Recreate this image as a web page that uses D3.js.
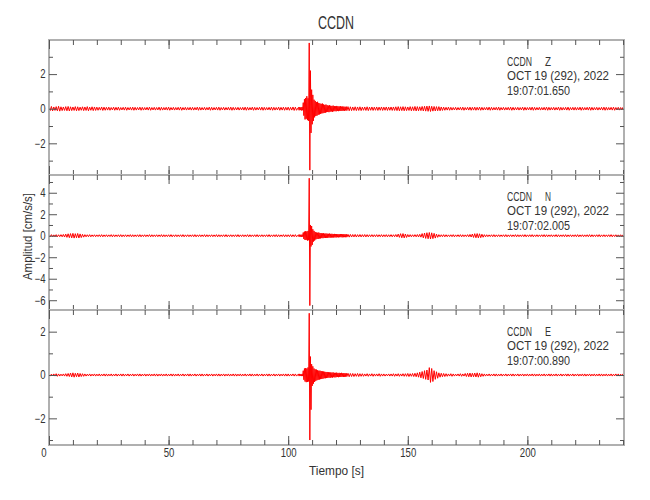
<!DOCTYPE html>
<html><head><meta charset="utf-8">
<script src="https://cdn.jsdelivr.net/npm/d3@7"></script>
<style>
body{margin:0;background:#fff}
svg{display:block}
text{font-family:"Liberation Sans",Arial,sans-serif;fill:#333}
</style>
</head><body><svg id="c" width="650" height="500"></svg>
<script>
// ---------------- DATA ----------------
const station = "CCDN";
const channels = ["Z", "N", "E"];
const dateLabel = "OCT 19 (292), 2022";
const startTimes = ["19:07:01.650", "19:07:02.005", "19:07:00.890"];
const xLabel = "Tiempo [s]";
const yLabel = "Amplitud [cm/s/s]";

const xDomain = [0, 240.4];
const xMajorTicks = [0, 50, 100, 150, 200];
const xMinorTicks = [0,10,20,30,40,50,60,70,80,90,100,110,120,130,140,150,160,170,180,190,200,210,220,230,240];

const yDomainZ = [-3.83, 3.97];
const yDomainN = [-6.91, 5.65];
const yDomainE = [-3.23, 3.0];
const yMajorZ = [-2, 0, 2];
const yMinorZ = [-3, -1, 1, 3];
const yMajorN = [-6, -4, -2, 0, 2, 4];
const yMinorN = [-5, -3, -1, 1, 3, 5];
const yMajorE = [-2, 0, 2];
const yMinorE = [-3, -1, 1];

// background noise envelope, one value per second (t = 0..240); null = covered by event arrays
const noiseZ = [
0.11,0.13,0.1,0.12,0.14,0.11,0.1,0.12,0.13,0.11,0.1,0.12,0.11,0.09,0.11,0.1,0.12,0.09,0.11,0.1,
0.09,0.08,0.1,0.09,0.08,0.09,0.07,0.09,0.08,0.09,0.07,0.08,0.09,0.07,0.08,0.09,0.08,0.07,0.09,0.08,
0.07,0.08,0.09,0.07,0.08,0.07,0.09,0.08,0.07,0.08,0.09,0.07,0.08,0.07,0.08,0.09,0.07,0.08,0.07,0.08,
0.08,0.07,0.09,0.08,0.07,0.08,0.07,0.09,0.08,0.07,0.08,0.09,0.07,0.08,0.07,0.08,0.09,0.08,0.07,0.08,
0.07,0.08,0.09,0.08,0.07,0.09,0.08,0.07,0.08,0.09,0.08,0.07,0.08,0.09,0.08,0.07,0.09,0.08,0.09,0.08,
0.09,0.08,0.1,0.09,null,null,null,null,null,null,null,null,null,null,null,null,null,null,null,null,
null,null,null,null,null,0.12,0.11,0.1,0.11,0.1,0.11,0.09,0.1,0.11,0.09,0.1,0.09,0.1,0.09,0.1,
0.09,0.1,0.09,0.1,0.1,0.11,0.12,0.11,0.12,0.11,0.1,0.12,0.11,0.13,0.12,0.11,0.13,0.14,0.15,0.16,
0.14,0.13,0.12,0.12,0.1,0.09,0.08,0.09,0.08,0.07,0.08,0.07,0.08,0.09,0.07,0.08,0.09,0.08,0.09,0.08,
0.09,0.08,0.07,0.08,0.09,0.08,0.07,0.08,0.09,0.07,0.08,0.07,0.08,0.09,0.08,0.07,0.08,0.07,0.09,0.08,
0.07,0.08,0.09,0.08,0.07,0.08,0.07,0.08,0.09,0.08,0.07,0.08,0.07,0.09,0.08,0.07,0.08,0.09,0.07,0.08,
0.08,0.07,0.09,0.08,0.07,0.08,0.09,0.08,0.07,0.08,0.07,0.08,0.09,0.08,0.07,0.08,0.09,0.07,0.08,0.07,0.08
];
const noiseN = [
0.09,0.1,0.08,0.1,0.09,0.1,0.12,0.15,0.18,0.2,0.22,0.19,0.21,0.17,0.13,0.1,0.09,0.1,0.08,0.09,
0.08,0.09,0.1,0.08,0.09,0.08,0.1,0.09,0.08,0.09,0.1,0.08,0.09,0.08,0.1,0.09,0.08,0.09,0.1,0.08,
0.09,0.08,0.1,0.09,0.08,0.09,0.08,0.1,0.09,0.08,0.09,0.1,0.08,0.09,0.08,0.09,0.1,0.08,0.09,0.08,
0.09,0.1,0.08,0.09,0.08,0.1,0.09,0.08,0.09,0.08,0.1,0.09,0.08,0.09,0.1,0.08,0.09,0.08,0.09,0.1,
0.08,0.09,0.08,0.1,0.09,0.08,0.09,0.1,0.08,0.09,0.08,0.09,0.1,0.08,0.09,0.1,0.09,0.08,0.1,0.09,
0.09,0.1,0.09,0.1,null,null,null,null,null,null,null,null,null,null,null,null,null,null,null,null,
null,null,null,null,null,0.13,0.12,0.11,0.12,0.1,0.11,0.1,0.11,0.1,0.09,0.1,0.09,0.1,0.09,0.1,
0.09,0.1,0.09,0.1,0.09,0.11,0.15,0.19,0.2,0.16,0.11,0.1,0.09,0.1,0.11,0.13,0.2,0.25,0.28,0.3,
0.27,0.22,0.15,0.1,0.09,0.1,0.09,0.08,0.09,0.1,0.08,0.09,0.1,0.09,0.08,0.1,0.12,0.16,0.19,0.2,
0.18,0.14,0.1,0.09,0.08,0.09,0.1,0.08,0.09,0.08,0.09,0.1,0.08,0.09,0.08,0.1,0.09,0.08,0.09,0.1,
0.08,0.09,0.1,0.08,0.09,0.08,0.09,0.1,0.09,0.08,0.09,0.08,0.1,0.09,0.08,0.09,0.1,0.08,0.09,0.08,
0.09,0.1,0.08,0.09,0.08,0.09,0.1,0.09,0.08,0.09,0.1,0.08,0.09,0.08,0.09,0.1,0.08,0.09,0.08,0.09,0.08
];
const noiseE = [
0.05,0.04,0.05,0.06,0.05,0.04,0.05,0.06,0.07,0.09,0.1,0.08,0.09,0.07,0.06,0.05,0.04,0.05,0.04,0.05,
0.04,0.05,0.04,0.05,0.05,0.04,0.05,0.04,0.05,0.04,0.05,0.05,0.04,0.05,0.04,0.05,0.04,0.05,0.05,0.04,
0.05,0.04,0.05,0.04,0.05,0.05,0.04,0.05,0.04,0.05,0.04,0.05,0.05,0.04,0.05,0.04,0.05,0.04,0.05,0.05,
0.04,0.05,0.04,0.05,0.05,0.04,0.05,0.04,0.05,0.04,0.05,0.05,0.04,0.05,0.04,0.05,0.04,0.05,0.05,0.04,
0.05,0.04,0.05,0.04,0.05,0.05,0.04,0.05,0.04,0.05,0.04,0.05,0.05,0.04,0.05,0.04,0.05,0.04,0.05,0.05,
0.05,0.04,0.05,0.05,null,null,null,null,null,null,null,null,null,null,null,null,null,null,null,null,
null,null,null,null,null,0.08,0.07,0.07,0.06,0.07,0.06,0.06,0.05,0.06,0.05,0.06,0.05,0.05,0.06,0.05,
0.05,0.04,0.05,0.05,0.06,0.05,0.06,0.05,0.06,0.06,0.07,0.06,0.07,0.08,0.1,0.13,0.16,0.2,0.23,0.34,
0.3,0.2,0.15,0.1,0.08,0.07,0.06,0.05,0.06,0.05,0.04,0.05,0.06,0.05,0.07,0.08,0.09,0.08,0.09,0.1,
0.08,0.06,0.05,0.04,0.05,0.04,0.05,0.05,0.04,0.05,0.04,0.05,0.04,0.05,0.05,0.04,0.05,0.04,0.05,0.04,
0.05,0.04,0.05,0.05,0.04,0.05,0.04,0.05,0.04,0.05,0.05,0.04,0.05,0.04,0.05,0.04,0.05,0.05,0.04,0.05,
0.04,0.05,0.04,0.05,0.05,0.04,0.05,0.04,0.05,0.04,0.05,0.05,0.04,0.05,0.04,0.05,0.04,0.05,0.05,0.04,0.05
];

// earthquake window: upper / lower extremes every 0.5 s starting at eventStart
const eventStart = 104.3;
const eventStep = 0.5;
const eventHiZ = [0.08,0.09,0.08,0.1,0.35,0.55,0.62,0.72,0.6,3.8,2.2,1.1,0.8,0.52,0.45,0.38,0.4,0.33,0.3,0.28,0.3,0.25,0.22,0.24,0.2,0.18,0.2,0.17,0.16,0.18,0.15,0.14,0.16,0.14,0.13,0.15,0.12,0.13,0.12,0.11,0.12];
const eventLoZ = [-0.09,-0.08,-0.1,-0.09,-0.4,-0.62,-0.58,-0.66,-0.7,-3.55,-1.4,-0.9,-0.7,-0.5,-0.42,-0.4,-0.35,-0.33,-0.3,-0.27,-0.26,-0.24,-0.23,-0.2,-0.19,-0.2,-0.17,-0.16,-0.18,-0.15,-0.14,-0.15,-0.13,-0.14,-0.12,-0.13,-0.12,-0.11,-0.12,-0.1,-0.11];
const eventHiN = [0.09,0.1,0.09,0.1,0.3,0.38,0.42,0.4,0.45,5.35,1.0,0.9,0.6,0.45,0.35,0.3,0.28,0.3,0.25,0.24,0.22,0.23,0.2,0.21,0.19,0.18,0.2,0.17,0.18,0.16,0.17,0.15,0.16,0.15,0.14,0.16,0.15,0.14,0.15,0.13,0.14];
const eventLoN = [-0.1,-0.09,-0.1,-0.09,-0.3,-0.4,-0.38,-0.45,-0.42,-6.5,-1.0,-0.85,-0.55,-0.45,-0.35,-0.3,-0.3,-0.26,-0.25,-0.22,-0.23,-0.2,-0.21,-0.19,-0.2,-0.17,-0.18,-0.17,-0.16,-0.17,-0.15,-0.16,-0.14,-0.15,-0.14,-0.13,-0.15,-0.14,-0.13,-0.14,-0.13];
const eventHiE = [0.05,0.05,0.04,0.05,0.2,0.3,0.32,0.3,0.35,2.85,0.85,0.5,0.4,0.3,0.26,0.25,0.22,0.2,0.2,0.18,0.17,0.16,0.15,0.14,0.14,0.13,0.12,0.12,0.11,0.12,0.1,0.1,0.11,0.09,0.1,0.09,0.1,0.08,0.09,0.08,0.08];
const eventLoE = [-0.05,-0.04,-0.05,-0.05,-0.22,-0.3,-0.33,-0.32,-0.3,-3.0,-1.6,-0.5,-0.4,-0.32,-0.27,-0.24,-0.22,-0.21,-0.19,-0.18,-0.17,-0.15,-0.15,-0.14,-0.13,-0.12,-0.13,-0.11,-0.12,-0.1,-0.11,-0.1,-0.09,-0.1,-0.09,-0.09,-0.08,-0.09,-0.08,-0.08,-0.07];

// ---------------- LAYOUT ----------------
const left = 49, right = 624, panelH = 135;
const tops = [40, 175, 310];
const squeeze = 0.8;  // narrow lettering of the original plotting font
const svg = d3.select("#c");
const x = d3.scaleLinear().domain(xDomain).range([left, right]);

const panels = [
  {dom: yDomainZ, major: yMajorZ, minor: yMinorZ, noise: noiseZ, hi: eventHiZ, lo: eventLoZ},
  {dom: yDomainN, major: yMajorN, minor: yMinorN, noise: noiseN, hi: eventHiN, lo: eventLoN},
  {dom: yDomainE, major: yMajorE, minor: yMinorE, noise: noiseE, hi: eventHiE, lo: eventLoE}
];

function tracePoints(p) {
  const pts = [];
  const evEnd = eventStart + p.hi.length * eventStep;
  let evDone = false;
  p.noise.forEach((a, s) => {
    if (a === null) return;
    if (s >= evEnd && !evDone) {
      p.hi.forEach((h, i) => {
        const t = eventStart + i * eventStep;
        pts.push([t, h], [t + eventStep / 2, p.lo[i]]);
      });
      evDone = true;
    }
    pts.push([s, a], [s + 0.5, -a]);
  });
  return pts;
}

const styleAxis = sel => {
  sel.select(".domain").remove();
  sel.selectAll(".tick line").attr("stroke", "#555");
};

panels.forEach((p, k) => {
  const top = tops[k], bot = top + panelH;
  const y = d3.scaleLinear().domain(p.dom).range([bot, top]);
  const g = svg.append("g");

  g.append("clipPath").attr("id", "clip" + k)
    .append("rect").attr("x", left).attr("y", top).attr("width", right - left).attr("height", panelH);

  const line = d3.line().x(d => x(d[0])).y(d => y(d[1]));
  g.append("path").datum(tracePoints(p))
    .attr("clip-path", "url(#clip" + k + ")")
    .attr("d", line).attr("fill", "none").attr("stroke", "#ff0000").attr("stroke-width", 1);

  // frame
  g.append("rect").attr("x", left).attr("y", top).attr("width", right - left).attr("height", panelH)
    .attr("fill", "none").attr("stroke", "#b0b0b0").attr("stroke-width", 2);

  // x ticks: top (pointing down) and bottom (pointing up)
  g.append("g").attr("transform", `translate(0,${top})`)
    .call(d3.axisBottom(x).tickValues(xMinorTicks).tickSize(5).tickFormat("")).call(styleAxis);
  g.append("g").attr("transform", `translate(0,${top})`)
    .call(d3.axisBottom(x).tickValues(xMajorTicks).tickSize(9).tickFormat("")).call(styleAxis);
  g.append("g").attr("transform", `translate(0,${bot})`)
    .call(d3.axisBottom(x).tickValues(xMinorTicks).tickSize(-5).tickFormat("")).call(styleAxis);
  const xb = g.append("g").attr("transform", `translate(0,${bot})`)
    .call(d3.axisBottom(x).tickValues(xMajorTicks).tickSize(-9).tickPadding(3.5)
      .tickFormat(k === 2 ? d3.format("d") : "")).call(styleAxis);
  xb.selectAll("text").attr("font-size", 12).attr("font-family", null).attr("fill", "#333")
    .attr("dx", d => d === 0 ? -7 : 0)
    .attr("transform", `scale(${squeeze},1)`);

  // y ticks left / right
  g.append("g").attr("transform", `translate(${left},0)`)
    .call(d3.axisLeft(y).tickValues(p.minor).tickSize(-4).tickFormat("")).call(styleAxis);
  const yl = g.append("g").attr("transform", `translate(${left},0)`)
    .call(d3.axisLeft(y).tickValues(p.major).tickSize(-8).tickPadding(3.5 / squeeze).tickFormat(d3.format("d"))).call(styleAxis);
  yl.selectAll("text").attr("font-size", 12).attr("font-family", null).attr("fill", "#333")
    .attr("transform", `scale(${squeeze},1)`);
  g.append("g").attr("transform", `translate(${right},0)`)
    .call(d3.axisRight(y).tickValues(p.minor).tickSize(-4).tickFormat("")).call(styleAxis);
  g.append("g").attr("transform", `translate(${right},0)`)
    .call(d3.axisRight(y).tickValues(p.major).tickSize(-8).tickFormat("")).call(styleAxis);

  // annotation
  const ax = 507;
  g.append("text").attr("x", ax).attr("y", top + 26).attr("font-size", 12)
    .attr("textLength", 25).attr("lengthAdjust", "spacingAndGlyphs").text(station);
  g.append("text").attr("x", ax + 38).attr("y", top + 26).attr("font-size", 12)
    .attr("textLength", 6).attr("lengthAdjust", "spacingAndGlyphs").text(channels[k]);
  g.append("text").attr("x", ax).attr("y", top + 40.3).attr("font-size", 12)
    .attr("textLength", 102).attr("lengthAdjust", "spacingAndGlyphs").text(dateLabel);
  g.append("text").attr("x", ax).attr("y", top + 54.5).attr("font-size", 12)
    .attr("textLength", 63).attr("lengthAdjust", "spacingAndGlyphs").text(startTimes[k]);
});

// title and axis titles
svg.append("text").attr("x", 336).attr("y", 29).attr("text-anchor", "middle")
  .attr("font-size", 19).attr("textLength", 36).attr("lengthAdjust", "spacingAndGlyphs")
  .attr("fill", "#444").text(station);
svg.append("text").attr("x", 336.5).attr("y", 475).attr("text-anchor", "middle")
  .attr("font-size", 12).attr("textLength", 55).attr("lengthAdjust", "spacingAndGlyphs").text(xLabel);
svg.append("text").attr("transform", "translate(32,236.5) rotate(-90)").attr("text-anchor", "middle")
  .attr("font-size", 12).attr("textLength", 87).attr("lengthAdjust", "spacingAndGlyphs").text(yLabel);
</script>
</body></html>
